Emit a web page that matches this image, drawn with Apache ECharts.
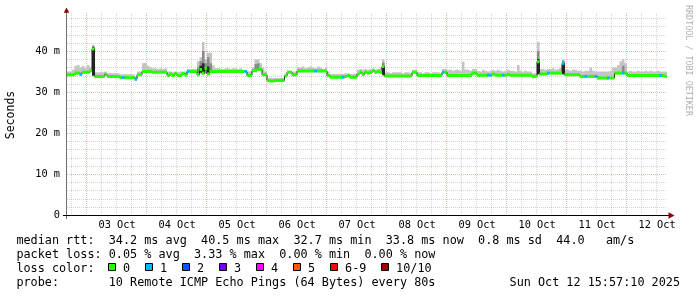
<!DOCTYPE html>
<html>
<head>
<meta charset="utf-8">
<script src="https://cdn.jsdelivr.net/npm/echarts@6/dist/echarts.min.js"></script>
<style>
html,body{margin:0;padding:0;background:#fff;}
#c{width:697px;height:297px;}
</style>
</head>
<body>
<div id="c"></div>
<script>
// ---------------- DATA ----------------
// x axis: hours since graph start (Thu Oct 02 15:57:10 2025), 1 value per hour, 240 hours
const dayLabels = ['03 Oct','04 Oct','05 Oct','06 Oct','07 Oct','08 Oct','09 Oct','10 Oct','11 Oct','12 Oct'];
const firstMidnightHour = 8.047;          // Oct 03 00:00 relative to start
const yMajorTicks = [0, 10, 20, 30, 40];
const yMinorTicks = [2,4,6,8,12,14,16,18,22,24,26,28,32,34,36,38,42,44,46,48];

// median rtt (ms), one value per hour
const median = [
34.2,34.2,34.2,34.6,34.6,34.3,34.8,34.8,34.8,35.2,
40.5,33.8,33.8,33.8,33.8,34.3,33.8,33.8,33.8,33.8,
33.8,33.5,33.5,33.5,33.5,33.5,33.5,33.1,34.2,34.2,
35.0,35.0,35.0,35.0,34.8,34.8,34.8,34.8,34.8,34.8,
34.0,34.4,34.0,34.5,34.0,34.0,34.5,34.1,35.0,35.0,
35.0,35.0,34.2,35.5,34.6,35.8,34.4,35.0,35.0,35.0,
35.0,35.0,35.0,35.0,35.0,35.0,35.0,35.0,35.0,35.0,
35.0,35.0,34.0,34.0,35.2,35.2,35.5,35.5,34.2,34.2,
32.8,32.7,32.7,32.8,32.8,32.8,32.8,33.9,34.8,34.8,
34.2,34.2,35.1,35.1,35.1,35.1,35.1,35.1,35.1,35.1,
35.1,35.1,35.1,35.1,34.0,33.6,33.6,33.6,33.6,33.6,
33.6,33.8,34.0,33.6,33.6,33.6,34.4,34.8,34.3,34.8,
34.6,34.8,35.2,34.8,35.0,34.8,36.2,33.9,33.9,33.9,
33.9,33.9,33.9,33.9,33.9,33.9,33.9,33.9,34.8,34.8,
34.0,34.0,34.0,34.0,34.0,34.0,34.0,34.0,34.0,34.0,
34.8,34.8,34.0,34.0,34.0,34.0,34.0,34.0,34.0,34.0,
34.0,34.0,34.6,34.6,34.1,34.1,34.1,34.1,34.1,34.1,
34.4,34.1,34.1,34.1,34.1,34.1,34.3,34.1,34.1,34.1,
34.1,34.1,34.0,34.1,34.1,34.1,33.8,33.8,37.4,34.4,
34.4,34.4,34.6,34.6,34.6,34.6,34.6,34.6,37.0,34.2,
34.2,34.2,34.2,34.2,34.2,33.8,33.8,33.8,33.8,33.8,
33.8,33.8,33.4,33.4,33.4,33.4,33.4,33.4,33.4,34.6,
34.6,34.6,34.6,34.6,34.0,34.0,34.0,34.0,34.0,34.0,
34.0,34.0,34.0,34.0,34.0,34.0,34.0,34.0,34.0,33.8
];

// highest ping of each hour (top of the light smoke), ms
const smokeHi = [
35.0,35.0,35.4,36.4,36.6,36.0,36.4,35.8,36.6,36.0,
41.5,34.8,34.8,34.8,34.8,35.0,34.6,34.6,34.6,34.6,
34.6,34.3,34.3,34.3,34.3,34.3,34.3,33.8,35.0,35.0,
37.0,37.1,36.4,36.0,35.8,35.8,35.6,35.8,35.6,35.8,
35.0,35.0,34.8,35.0,34.8,35.0,35.0,35.0,35.6,35.6,
35.6,35.6,37.5,38.5,42.2,38.0,39.6,39.6,36.5,35.8,
35.8,35.8,35.6,35.8,35.8,35.6,35.8,35.8,35.6,35.8,
35.4,35.4,35.0,35.0,36.0,38.0,38.0,37.0,36.0,35.0,
33.4,33.4,33.4,33.4,33.4,33.4,33.4,34.4,35.2,35.2,
35.0,35.0,36.0,36.0,36.2,35.8,36.0,36.2,36.0,35.8,
36.2,36.0,35.6,35.8,35.0,34.4,34.4,34.4,34.4,34.4,
34.4,34.6,34.6,34.4,34.4,34.4,35.4,35.6,35.4,35.6,
35.4,35.6,35.8,35.4,35.6,36.0,38.0,34.8,34.8,34.6,
34.8,34.8,34.8,34.8,34.6,34.8,34.8,34.6,35.4,35.4,
34.8,34.8,34.6,34.8,34.8,34.6,34.8,34.8,34.8,34.6,
35.6,35.6,35.4,35.4,35.2,35.4,35.4,35.2,37.4,35.4,
35.4,35.2,35.6,35.6,35.2,35.0,35.4,35.2,35.0,35.2,
35.4,35.2,35.4,35.2,35.0,35.2,35.4,35.2,35.2,35.0,
36.6,35.2,35.0,35.2,35.0,35.0,34.6,34.6,42.2,35.6,
35.6,35.4,35.6,35.6,35.8,35.4,35.6,36.0,38.0,35.4,
35.4,35.2,35.4,35.4,35.2,35.2,35.0,35.2,35.2,36.0,
35.2,35.0,35.0,35.0,35.0,35.0,35.0,35.2,36.0,36.0,
36.5,37.5,38.0,37.0,35.0,35.2,35.0,35.0,35.2,35.0,
35.0,35.2,35.0,35.2,35.0,35.0,35.2,35.0,35.0,35.0
];

// denser (medium grey) smoke: [hour, low, high]
const smokeMid = [
[10,33.9,41.2],[52,34.6,36.0],[53,34.5,37.5],[54,34.3,40.0],[55,34.5,37.0],[56,34.3,38.5],
[57,34.6,37.0],[75,35.2,36.8],[76,35.3,37.0],[126,34.0,37.2],[188,34.2,40.0],[198,34.2,37.6],[222,34.6,36.4]
];
// densest (near black) smoke: [hour, low, high]
const smokeDark = [
[10,34.0,40.9],[53,34.8,36.4],[54,34.5,37.0],[56,34.4,36.2],[126,34.2,36.6],[188,34.4,38.0],[198,34.4,37.2]
];
// hours with packet loss: [hour, lost pings of 10]
const lossAt = [
[5,1],[22,1],[27,1],[48,1],[71,1],[99,1],[110,1],[150,1],[168,1],[169,1],
[174,1],[192,1],[198,1],[207,1],[211,1],[216,1],[222,1],[237,1]
];

// legend
const lossLabels = ['0','1','2','3','4','5','6-9','10/10'];
const lossColors = ['#26ff00','#00b8ff','#0059ff','#7000ff','#ff00ff','#ff5a00','#ff0000','#a00000'];
const statLines = [
  'median rtt:  34.2 ms avg  40.5 ms max  32.7 ms min  33.8 ms now  0.8 ms sd  44.0   am/s',
  'packet loss: 0.05 % avg  3.33 % max  0.00 % min  0.00 % now'
];
const lossTitle = 'loss color:';
const probeLine = 'probe:       10 Remote ICMP Echo Pings (64 Bytes) every 80s';
const dateLine = 'Sun Oct 12 15:57:10 2025';
const watermark = 'RRDTOOL / TOBI OETIKER';

// ---------------- LAYOUT ----------------
const MONO = '"DejaVu Sans Mono", monospace';
const G = {left: 67, top: 15, width: 600, height: 200};
const Y_MAX = 48.78;
const X_MAX = median.length;
const HALF_BAND = 0.37;
const legendX = 16.4;
const legendY = [240.9, 254.9, 268.9, 282.9];
const legendFont = '11.8px ' + MONO;
const boxX = [108.5,145.5,182.5,219.5,256.5,293.5,330.5,381.5];

// ---------------- BUILD ----------------
const n = median.length;
const lossLevel = new Array(n).fill(0);
lossAt.forEach(([h, l]) => { lossLevel[h] = l; });

// step-shaped band between lower[i] and upper[i] on [i, i+1], for i in [a, b)
function stepBand(api, a, b, lower, upper) {
  const top = [], bot = [];
  for (let i = a; i < b; i++) {
    top.push(api.coord([i, upper[i]]), api.coord([i + 1, upper[i]]));
    bot.push(api.coord([i, lower[i]]), api.coord([i + 1, lower[i]]));
  }
  return top.concat(bot.reverse());
}

const labelHours = dayLabels.map((_, k) => firstMidnightHour + 12 + 24 * k);
const gridItems = [];
for (let t = firstMidnightHour - 6; t < X_MAX; t += 6) {
  const q = (t - firstMidnightHour) / 24;
  gridItems.push([0, t, Math.abs(q - Math.round(q)) < 1e-6 ? 1 : 0]);
}
yMinorTicks.forEach(v => gridItems.push([1, v, 0]));
yMajorTicks.filter(v => v > 0).forEach(v => gridItems.push([1, v, 1]));

// runs of equal loss level for the median band
const runs = [];
for (let i = 0; i < n; ) {
  let j = i;
  while (j < n && lossLevel[j] === lossLevel[i]) j++;
  runs.push([i, j, lossLevel[i]]);
  i = j;
}
const bandLo = median.map(v => v - HALF_BAND);
const bandHi = median.map(v => v + HALF_BAND);

const series = [];
// grid
series.push({
  type: 'custom', silent: true, z: 1, data: gridItems,
  encode: {x: 1, y: 1},
  renderItem: function (params, api) {
    const o = api.value(0), v = api.value(1), major = api.value(2);
    let shape;
    if (o === 0) {
      const b = api.coord([v, 0]), t = api.coord([v, Y_MAX]);
      const x = Math.round(b[0]) - 0.5;
      shape = {x1: x, y1: t[1] - 2, x2: x, y2: b[1]};
    } else {
      const l = api.coord([0, v]), r = api.coord([X_MAX, v]);
      const y = Math.round(l[1]) + 0.5;
      shape = {x1: l[0], y1: y, x2: r[0], y2: y};
    }
    return {type: 'line', shape: shape, silent: true,
      style: {stroke: major ? 'rgba(225,70,70,0.42)' : 'rgba(140,140,140,0.38)', lineWidth: 1, lineDash: [1, 1]}};
  }
});
// light smoke from the median up to the highest ping
series.push({
  type: 'custom', silent: true, z: 2, clip: true, data: [[0, 0]],
  renderItem: function (params, api) {
    return {type: 'polygon', shape: {points: stepBand(api, 0, n, median, smokeHi)}, style: {fill: '#c4c4c4'}};
  }
});
// denser smoke
function rectRenderer(color) {
  return function (params, api) {
    const i = api.value(0), lo = api.value(1), hi = api.value(2);
    const a = api.coord([i, hi]), b = api.coord([i + 1, lo]);
    return {type: 'rect', shape: {x: a[0], y: a[1], width: b[0] - a[0], height: b[1] - a[1]},
      style: {fill: color}};
  };
}
series.push({type: 'custom', silent: true, z: 3, data: smokeMid, encode: {x: 0, y: [1, 2]}, renderItem: rectRenderer('#8a8a8a')});
series.push({type: 'custom', silent: true, z: 4, data: smokeDark, encode: {x: 0, y: [1, 2]}, renderItem: rectRenderer('#262626')});
// thin dark median line
const medianStep = median.map((v, i) => [i, v]);
medianStep.push([n, median[n - 1]]);
series.push({type: 'line', step: 'end', symbol: 'none', showSymbol: false, silent: true, z: 5,
  data: medianStep, lineStyle: {color: '#202020', width: 1}});
// loss-coloured median band
series.push({
  type: 'custom', silent: true, z: 6, clip: true, data: runs,
  encode: {x: 0, y: 2},
  renderItem: function (params, api) {
    const a = api.value(0), b = api.value(1), L = api.value(2);
    return {type: 'polygon', shape: {points: stepBand(api, a, b, bandLo, bandHi)}, style: {fill: lossColors[L]}};
  }
});

// graphics: axes, arrows, legend, watermark
const graphic = [];
graphic.push({type: 'line', silent: true, z: 10, shape: {x1: 66.5, y1: 219, x2: 66.5, y2: 12},
  style: {stroke: '#707070', lineWidth: 1}});
graphic.push({type: 'line', silent: true, z: 10, shape: {x1: 63, y1: 215.5, x2: 669, y2: 215.5},
  style: {stroke: '#000', lineWidth: 1}});
graphic.push({type: 'polygon', silent: true, z: 11, shape: {points: [[63.8, 12.8], [69.2, 12.8], [66.5, 7.5]]},
  style: {fill: '#8b0000'}});
graphic.push({type: 'polygon', silent: true, z: 11, shape: {points: [[668.5, 212.3], [668.5, 218.7], [674.5, 215.5]]},
  style: {fill: '#8b0000'}});
statLines.forEach((s, k) => graphic.push({type: 'text', silent: true, x: legendX, y: legendY[k],
  style: {text: s, font: legendFont, fill: '#000', align: 'left', verticalAlign: 'middle'}}));
graphic.push({type: 'text', silent: true, x: legendX, y: legendY[2],
  style: {text: lossTitle, font: legendFont, fill: '#000', align: 'left', verticalAlign: 'middle'}});
lossLabels.forEach((lab, k) => {
  graphic.push({type: 'rect', silent: true, shape: {x: boxX[k], y: legendY[2] - 5.4, width: 7, height: 7},
    style: {fill: lossColors[k], stroke: '#000', lineWidth: 1}});
  graphic.push({type: 'text', silent: true, x: boxX[k] + 14.6, y: legendY[2],
    style: {text: lab, font: legendFont, fill: '#000', align: 'left', verticalAlign: 'middle'}});
});
graphic.push({type: 'text', silent: true, x: legendX, y: legendY[3],
  style: {text: probeLine, font: legendFont, fill: '#000', align: 'left', verticalAlign: 'middle'}});
graphic.push({type: 'text', silent: true, x: 680, y: legendY[3],
  style: {text: dateLine, font: legendFont, fill: '#000', align: 'right', verticalAlign: 'middle'}});
graphic.push({type: 'text', silent: true, x: 688, y: 5, rotation: -Math.PI / 2,
  style: {text: watermark, font: '8.4px ' + MONO, fill: '#b0b0b0', align: 'left', verticalAlign: 'middle'}});

const chart = echarts.init(document.getElementById('c'), null, {renderer: 'canvas'});
chart.setOption({
  animation: false,
  backgroundColor: '#ffffff',
  textStyle: {fontFamily: MONO},
  grid: Object.assign({containLabel: false, outerBoundsMode: 'none'}, G),
  xAxis: {
    type: 'value', min: 0, max: X_MAX,
    axisLine: {show: false}, axisTick: {show: false}, splitLine: {show: false}, minorSplitLine: {show: false},
    axisLabel: {
      customValues: labelHours,
      formatter: function (v) { return dayLabels[Math.round((v - labelHours[0]) / 24)]; },
      color: '#000', fontFamily: MONO, fontSize: 10.3, margin: 5
    }
  },
  yAxis: {
    type: 'value', min: 0, max: Y_MAX,
    axisLine: {show: false}, axisTick: {show: false}, splitLine: {show: false},
    axisLabel: {
      customValues: yMajorTicks,
      formatter: function (v) { return v === 0 ? '0' : v + ' m'; },
      color: '#000', fontFamily: MONO, fontSize: 10.3, margin: 7
    },
    name: 'Seconds', nameLocation: 'middle', nameGap: 50, nameRotate: 90,
    nameTextStyle: {fontFamily: MONO, fontSize: 11.5, color: '#000'}
  },
  graphic: graphic,
  series: series
});
</script>
</body>
</html>
